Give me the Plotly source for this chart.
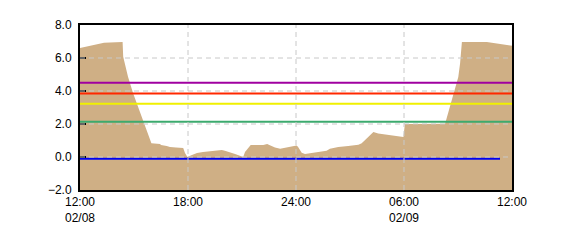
import plotly.graph_objects as go

# ---- data ----
times = [
    "2024-02-08 12:00", "2024-02-08 12:15", "2024-02-08 12:30", "2024-02-08 12:45",
    "2024-02-08 13:00", "2024-02-08 13:20", "2024-02-08 14:00", "2024-02-08 14:22",
    "2024-02-08 14:24", "2024-02-08 14:40", "2024-02-08 14:57", "2024-02-08 15:13",
    "2024-02-08 15:30", "2024-02-08 15:47", "2024-02-08 15:52", "2024-02-08 15:58",
    "2024-02-08 16:27", "2024-02-08 16:30", "2024-02-08 16:49", "2024-02-08 17:00",
    "2024-02-08 17:20", "2024-02-08 17:44", "2024-02-08 17:50", "2024-02-08 17:58",
    "2024-02-08 18:07", "2024-02-08 18:17", "2024-02-08 18:30", "2024-02-08 18:50",
    "2024-02-08 19:20", "2024-02-08 19:53", "2024-02-08 20:03", "2024-02-08 20:20",
    "2024-02-08 20:37", "2024-02-08 20:53", "2024-02-08 21:04", "2024-02-08 21:10",
    "2024-02-08 21:21", "2024-02-08 21:29", "2024-02-08 22:11", "2024-02-08 22:24",
    "2024-02-08 22:33", "2024-02-08 22:50", "2024-02-08 23:07", "2024-02-08 23:23",
    "2024-02-08 23:46", "2024-02-09 00:02", "2024-02-09 00:07", "2024-02-09 00:19",
    "2024-02-09 00:30", "2024-02-09 00:58", "2024-02-09 01:14", "2024-02-09 01:42",
    "2024-02-09 01:53", "2024-02-09 02:21", "2024-02-09 02:54", "2024-02-09 03:28",
    "2024-02-09 03:39", "2024-02-09 04:18", "2024-02-09 04:34", "2024-02-09 04:51",
    "2024-02-09 05:08", "2024-02-09 05:24", "2024-02-09 05:41", "2024-02-09 05:58",
    "2024-02-09 06:03", "2024-02-09 08:17", "2024-02-09 08:33", "2024-02-09 08:50",
    "2024-02-09 09:01", "2024-02-09 09:07", "2024-02-09 09:10", "2024-02-09 09:13",
    "2024-02-09 10:36", "2024-02-09 10:58", "2024-02-09 11:18", "2024-02-09 11:42",
    "2024-02-09 12:00",
]
levels = [
    6.60, 6.67, 6.73, 6.80,
    6.87, 6.93, 6.95, 6.97,
    6.08, 4.87, 3.86, 3.05,
    2.24, 1.33, 1.03, 0.83,
    0.79, 0.73, 0.67, 0.61,
    0.58, 0.55, 0.25, 0.00,
    0.08, 0.16, 0.24, 0.30,
    0.36, 0.42, 0.38, 0.30,
    0.18, 0.08, 0.00, 0.30,
    0.52, 0.73, 0.73, 0.79,
    0.71, 0.58, 0.50, 0.55,
    0.63, 0.69, 0.60, 0.26,
    0.18, 0.24, 0.32, 0.38,
    0.50, 0.61, 0.67, 0.75,
    0.83, 1.52, 1.43, 1.39,
    1.33, 1.29, 1.25, 1.21,
    2.00, 2.02, 3.05, 4.20,
    4.85, 5.68, 6.55, 6.97,
    6.97, 6.91, 6.87, 6.81,
    6.75,
]

threshold_names = ["purple", "red", "yellow", "green", "blue"]
threshold_values = [4.50, 3.85, 3.23, 2.14, -0.10]
threshold_colors = ["#A000A0", "#FF2800", "#F0F000", "#3CAA6E", "#0000F0"]
threshold_start = ["2024-02-08 12:00"] * 5
threshold_end = ["2024-02-09 12:00", "2024-02-09 12:00", "2024-02-09 12:00",
                 "2024-02-09 12:00", "2024-02-09 11:20"]

x_tickvals = ["2024-02-08 12:00", "2024-02-08 18:00", "2024-02-09 00:00",
              "2024-02-09 06:00", "2024-02-09 12:00"]
x_ticktext = ["12:00<br>02/08", "18:00", "24:00", "06:00<br>02/09", "12:00"]
y_tickvals = [-2, 0, 2, 4, 6, 8]
x_range = ["2024-02-08 12:00", "2024-02-09 12:00"]
y_range = [-2, 8]

fig = go.Figure()

# baseline at bottom of axis so the area fills down to -2
fig.add_trace(go.Scatter(x=[times[0], times[-1]], y=[y_range[0], y_range[0]],
                         mode="lines", line=dict(width=0), hoverinfo="skip",
                         showlegend=False))
fig.add_trace(go.Scatter(x=times, y=levels, mode="lines", line=dict(width=0),
                         fill="tonexty", fillcolor="#CFAF85", showlegend=False))

for name, v, c, s, e in zip(threshold_names, threshold_values, threshold_colors,
                            threshold_start, threshold_end):
    fig.add_trace(go.Scatter(x=[s, e], y=[v, v], mode="lines", name=name,
                             line=dict(color=c, width=2), showlegend=False))

grid_style = dict(color="#C8C8C8", width=1, dash="5px,4px")
shapes = []
for tv in x_tickvals[1:-1]:
    shapes.append(dict(type="line", xref="x", yref="paper", x0=tv, x1=tv, y0=0, y1=1,
                       line=grid_style, layer="above"))
for tv in y_tickvals[1:-1]:
    shapes.append(dict(type="line", xref="paper", yref="y", x0=0, x1=1, y0=tv, y1=tv,
                       line=grid_style, layer="above"))

fig.update_layout(
    width=570, height=250,
    margin=dict(l=80, r=58, t=25, b=60),
    paper_bgcolor="white", plot_bgcolor="white",
    font=dict(family="Liberation Sans, Arial, sans-serif", size=12, color="black"),
    shapes=shapes,
    showlegend=False,
)
fig.update_xaxes(range=x_range, type="date", tickvals=x_tickvals, ticktext=x_ticktext,
                 showgrid=False, zeroline=False, showline=True, linecolor="black",
                 linewidth=2, mirror=True, ticks="", ticklabelstandoff=0)
fig.update_yaxes(range=y_range, tickvals=y_tickvals, tickformat=".1f",
                 showgrid=False, zeroline=False, showline=True, linecolor="black",
                 linewidth=2, mirror=True, ticks="inside", ticklen=6, tickwidth=2,
                 tickcolor="black", ticklabelstandoff=4)

fig.write_html("out.html")
